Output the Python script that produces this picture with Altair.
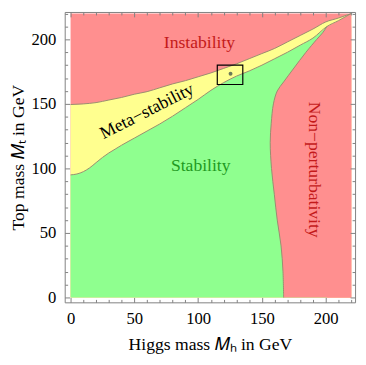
import altair as alt
import pandas as pd

# ---- data ----
upper_mh = [0, 10, 20, 30, 40, 50, 60, 70, 80, 90, 100, 110, 120, 130, 140, 150, 160, 170, 180, 190, 200, 210, 220]
upper_mt = [149.5, 150, 151, 153, 155, 157.5, 159.5, 162.5, 165.5, 168, 171, 174, 177.5, 181, 185, 189, 193, 198, 203, 208, 213.5, 216.5, 220]

lower_mh = [0, 5, 10, 15, 20, 25, 30, 35, 40, 50, 60, 70, 80, 90, 100, 110, 120, 130, 140, 150, 160, 170, 180, 190, 201, 210, 220]
lower_mt = [95, 95.7, 97.5, 100.5, 104.5, 108.5, 112, 115, 118, 123.5, 129, 134.5, 140.5, 147, 153.5, 160.5, 166.5, 171.5, 175.5, 180, 185, 190, 195.5, 201, 210, 214.5, 220]

np_mt = [0, 20, 40, 60, 80, 100, 120, 135, 150, 160, 167, 177, 190, 200, 205, 210]
np_mh = [167, 166.5, 165, 162, 159.7, 157.5, 156.5, 157.3, 159, 162, 167, 174.5, 184.5, 193, 197.5, 201]

region_labels = ["Instability", "Meta\u2212stability", "Stability", "Non\u2212perturbativity"]
label_mh = [101, 60, 102, 191]
label_mt = [197, 144, 102, 99]
label_colors = ["#c41a1a", "#000000", "#1f9a1f", "#c41a1a"]
label_angles = [0, 333, 0, 90]

box_mh = [115, 135]
box_mt = [165, 180]
point_mh = [125.4]
point_mt = [173.3]

major_ticks = [0, 50, 100, 150, 200]
minor_ticks = [10, 20, 30, 40, 60, 70, 80, 90, 110, 120, 130, 140, 160, 170, 180, 190, 210, 220]

DATA_MIN, DATA_MAX = 0, 220
X_DOMAIN = [-4.6, 223.0]
Y_DOMAIN = [-3.75, 221.2]

RED = "#ff8f8f"
YELLOW = "#ffff8f"
GREEN = "#8fff8f"
EDGE = "#9a8c70"
FONT = "Liberation Serif"

xs = alt.Scale(domain=X_DOMAIN, nice=False, zero=False)
ys = alt.Scale(domain=Y_DOMAIN, nice=False, zero=False)


def ax(orient, values, size, labels=False, title=None, **kw):
    return alt.Axis(
        orient=orient, values=values, tickSize=size, offset=-size, zindex=1,
        domain=False, grid=False, ticks=True, tickColor="#808080", tickWidth=1,
        labels=labels, labelFont=FONT, labelFontSize=17, labelColor="black",
        labelFlush=False, labelOverlap=False,
        title=title, titleFont=FONT, titleFontSize=18, titleFontWeight="normal",
        titleColor="black", **kw)


upper_df = pd.DataFrame({"mh": upper_mh, "mt": upper_mt})
lower_df = pd.DataFrame({"mh": lower_mh, "mt": lower_mt})
green_df = lower_df[lower_df.mh <= 201]
strip_df = lower_df[lower_df.mh >= 201]
np_df = pd.DataFrame({"mt": np_mt, "mh": np_mh, "edge": DATA_MAX, "i": range(len(np_mt))})
bg_df = pd.DataFrame({"x": [DATA_MIN], "x2": [DATA_MAX], "y": [DATA_MIN], "y2": [DATA_MAX]})
lab_df = pd.DataFrame({"mh": label_mh, "mt": label_mt, "t": region_labels,
                       "c": label_colors, "a": label_angles})
box_df = pd.DataFrame({"x": [box_mh[0]], "x2": [box_mh[1]], "y": [box_mt[0]], "y2": [box_mt[1]]})
pt_df = pd.DataFrame({"mh": point_mh, "mt": point_mt})

bg = alt.Chart(bg_df).mark_rect(color=RED).encode(
    x=alt.X("x:Q", scale=xs, axis=ax("bottom", major_ticks, 5, labels=True,
                                     title="Higgs mass \U0001D440\u2095 in GeV",
                                     labelPadding=9, titlePadding=9)),
    x2="x2",
    y=alt.Y("y:Q", scale=ys, axis=ax("left", major_ticks, 5, labels=True,
                                     title="Top mass \U0001D440\u209C in GeV",
                                     labelPadding=9, titlePadding=4)),
    y2="y2")

yellow = alt.Chart(upper_df).mark_area(color=YELLOW, interpolate="monotone").encode(
    x=alt.X("mh:Q", scale=xs, axis=ax("bottom", minor_ticks, 3)),
    y=alt.Y("mt:Q", scale=ys, axis=ax("left", minor_ticks, 3)))

green = alt.Chart(green_df).mark_area(color=GREEN, interpolate="monotone").encode(
    x=alt.X("mh:Q", scale=xs, axis=ax("top", major_ticks, 5)),
    y=alt.Y("mt:Q", scale=ys, axis=ax("right", major_ticks, 5)))

red_np = alt.Chart(np_df).mark_area(color=RED, orient="horizontal", interpolate="catmull-rom").encode(
    y=alt.Y("mt:Q", scale=ys, axis=ax("right", minor_ticks, 3)),
    x=alt.X("mh:Q", scale=xs, axis=ax("top", minor_ticks, 3)),
    x2="edge:Q")

red_strip = alt.Chart(strip_df).mark_area(color=RED).encode(
    x=alt.X("mh:Q", scale=xs, axis=None), y=alt.Y("mt:Q", scale=ys, axis=None))

line_up = alt.Chart(upper_df).mark_line(color=EDGE, strokeWidth=1, interpolate="monotone").encode(
    x=alt.X("mh:Q", scale=xs, axis=None), y=alt.Y("mt:Q", scale=ys, axis=None))
line_low = alt.Chart(lower_df).mark_line(color=EDGE, strokeWidth=1, interpolate="monotone").encode(
    x=alt.X("mh:Q", scale=xs, axis=None), y=alt.Y("mt:Q", scale=ys, axis=None))
line_np = alt.Chart(np_df).mark_line(color=EDGE, strokeWidth=1, interpolate="catmull-rom").encode(
    x=alt.X("mh:Q", scale=xs, axis=None), y=alt.Y("mt:Q", scale=ys, axis=None),
    order="i:Q")

box = alt.Chart(box_df).mark_rect(fill=None, stroke="black", strokeWidth=1.2).encode(
    x=alt.X("x:Q", scale=xs, axis=None), x2="x2",
    y=alt.Y("y:Q", scale=ys, axis=None), y2="y2")

dot = alt.Chart(pt_df).mark_point(filled=True, color="#6b7a5a", size=16, shape="circle", opacity=1).encode(
    x=alt.X("mh:Q", scale=xs, axis=None), y=alt.Y("mt:Q", scale=ys, axis=None))

texts = alt.Chart(lab_df).mark_text(font=FONT, fontSize=18, align="center", baseline="middle").encode(
    x=alt.X("mh:Q", scale=xs, axis=None), y=alt.Y("mt:Q", scale=ys, axis=None),
    text="t:N", color=alt.Color("c:N", scale=None), angle=alt.Angle("a:Q", scale=None))

chart = alt.layer(bg, yellow, green, red_np, red_strip, line_up, line_low, line_np, box, dot, texts).resolve_axis(
    x="independent", y="independent"
).properties(
    width=297, height=297,
    autosize=alt.AutoSizeParams(type="none"),
    padding={"left": 58, "top": 0, "right": 3, "bottom": 60},
).configure_view(stroke="#808080", strokeWidth=1)

chart.save("out.html", embed_options={"renderer": "svg", "actions": False})
